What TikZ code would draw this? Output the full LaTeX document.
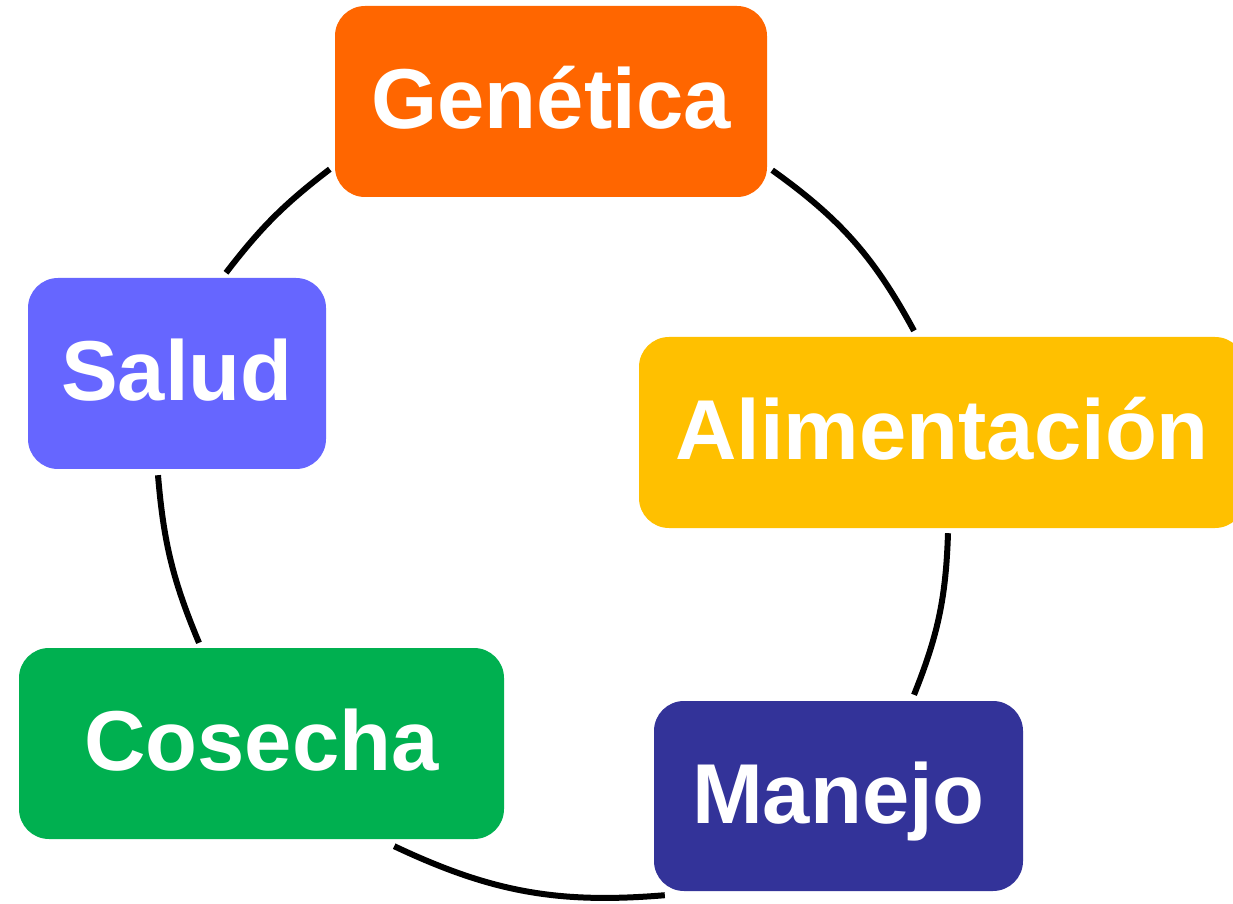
\documentclass[tikz,border=0pt]{standalone}
\usepackage{fontspec}
\setmainfont{Liberation Sans}
\definecolor{cGen}{HTML}{FF6600}
\definecolor{cAli}{HTML}{FFC000}
\definecolor{cMan}{HTML}{333399}
\definecolor{cCos}{HTML}{00B050}
\definecolor{cSal}{HTML}{6666FF}
\tikzset{
  stage/.style={rounded corners=30pt, inner sep=0pt, minimum height=191pt,
    text=white, font=\fontsize{85}{85}\selectfont\bfseries,
    text height=60pt, text depth=6pt},
  link/.style={line width=6pt, line cap=butt, bend left=#1},
}
\begin{document}
\begin{tikzpicture}[x=1pt, y=1pt]
\useasboundingbox (0,0) rectangle (1233,903);
% stages of the cycle
\node[stage, fill=cGen, minimum width=432pt] (gen) at (551,801.5) {Genética};
\node[stage, fill=cAli, minimum width=606pt] (ali) at (942,470.5) {Alimentación};
\node[stage, fill=cMan, minimum width=369pt, minimum height=190pt] (man) at (838.5,107) {Manejo};
\node[stage, fill=cCos, minimum width=485pt] (cos) at (261.5,159.5) {Cosecha};
\node[stage, fill=cSal, minimum width=298pt] (sal) at (177,529.5) {Salud};
% arcs joining consecutive stages
\draw[link=13] ([shift={(5,27)}]gen.south east) to ([shift={(-28,6)}]ali.north);
\draw[link=10] ([shift={(6,-5)}]ali.south) to ([shift={(75.5,6)}]man.north);
\draw[link=15] ([shift={(11,-4)}]man.south west) to ([shift={(-110,-7)}]cos.south east);
\draw[link=9] ([shift={(-62.5,5)}]cos.north) to ([shift={(-19,-6)}]sal.south);
\draw[link=7.5] ([shift={(49,5)}]sal.north) to ([shift={(-5,28)}]gen.south west);
\end{tikzpicture}
\end{document}
